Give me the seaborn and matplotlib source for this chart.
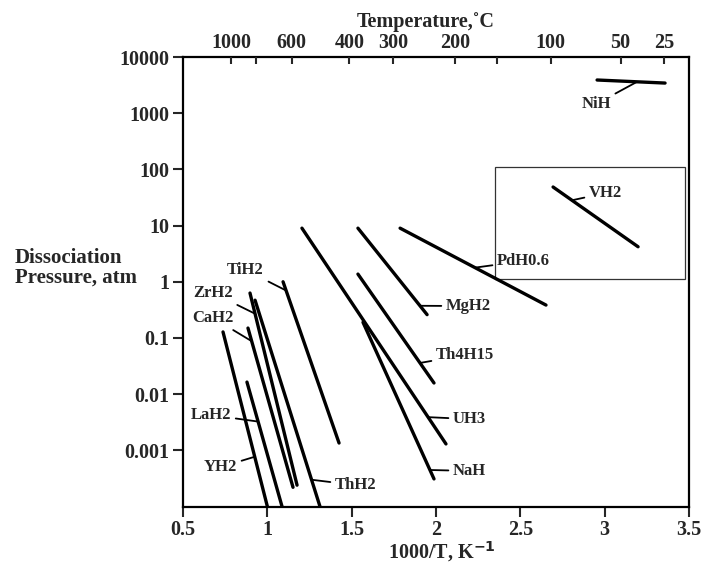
import matplotlib

matplotlib.use("Agg")
import matplotlib.pyplot as plt
import numpy as np
import pandas as pd
import seaborn as sns
from matplotlib.patches import Rectangle

# line endpoints: 1000/T (K^-1) and dissociation pressure (atm)
hydrides = ["YH2", "LaH2", "CaH2", "ZrH2", "ThH2", "TiH2", "UH3", "NaH",
            "MgH2", "Th4H15", "PdH0.6", "VH2", "NiH"]
x_start = [0.737, 0.879, 0.885, 0.897, 0.927, 1.093, 1.205, 1.567,
           1.537, 1.537, 1.787, 2.694, 2.955]
x_end = [1.0, 1.087, 1.152, 1.176, 1.312, 1.425, 2.059, 1.988,
         1.947, 1.988, 2.652, 3.198, 3.358]
p_start = [0.128, 0.0164, 0.15, 0.63, 0.47, 1.0, 9.0, 0.19,
           9.0, 1.37, 9.0, 48.6, 3900]
p_end = [1e-4, 1e-4, 2.2e-4, 2.4e-4, 1e-4, 1.35e-3, 1.3e-3, 3.1e-4,
         0.26, 0.0158, 0.385, 4.2, 3440]

x_ticks = [0.5, 1, 1.5, 2, 2.5, 3, 3.5]
x_tick_labels = ["0.5", "1", "1.5", "2", "2.5", "3", "3.5"]
y_ticks = [1e4, 1e3, 1e2, 1e1, 1, 0.1, 0.01, 0.001]
y_tick_labels = ["10000", "1000", "100", "10", "1", "0.1", "0.01", "0.001"]
temp_ticks_c = [1000, 800, 600, 400, 300, 200, 150, 100, 50, 25]
temp_labels = ["1000", "", "600", "400", "300", "200", "", "100", "50", "25"]

# label placement: x where the leader meets the line, text x, text pressure, alignment
label_spec = {
    "TiH2": (1.111, 0.980, 1.62, "right"),
    "ZrH2": (0.927, 0.796, 0.63, "right"),
    "CaH2": (0.907, 0.802, 0.226, "right"),
    "LaH2": (0.945, 0.785, 4.25e-3, "right"),
    "YH2": (0.925, 0.820, 5.0e-4, "right"),
    "ThH2": (1.262, 1.401, 2.4e-4, "left"),
    "MgH2": (1.905, 2.059, 0.37, "left"),
    "Th4H15": (1.905, 2.000, 0.0497, "left"),
    "UH3": (1.953, 2.101, 3.6e-3, "left"),
    "NaH": (1.964, 2.101, 4.3e-4, "left"),
    "PdH0.6": (2.231, 2.362, 2.34, "left"),
    "VH2": (2.806, 2.907, 38.0, "left"),
    "NiH": (3.192, 3.037, 1460.0, "right"),
}

df = pd.DataFrame({
    "hydride": hydrides + hydrides,
    "inv_T": x_start + x_end,
    "pressure": p_start + p_end,
})

sns.set_style("ticks")
plt.rcParams["font.family"] = ["Liberation Serif", "DejaVu Serif"]
plt.rcParams["font.weight"] = "bold"
plt.rcParams["mathtext.default"] = "bf"

fig = plt.figure(figsize=(7.04, 5.64), dpi=100)
ax = fig.add_axes([0.26, 0.1019, 0.7187, 0.7970])

sns.lineplot(data=df, x="inv_T", y="pressure", units="hydride", estimator=None,
             sort=False, color="black", linewidth=2.4, legend=False, ax=ax)
ax.set_yscale("log")
ax.set_xlim(0.5, 3.5)
ax.set_ylim(1e-4, 1e4)

ax.set_xticks(x_ticks)
ax.set_xticklabels(x_tick_labels)
ax.set_yticks(y_ticks)
ax.set_yticklabels(y_tick_labels)
ax.minorticks_off()
ax.tick_params(axis="both", direction="out", length=7, width=1.5, pad=3,
               labelsize=14.5, right=False, top=False)
for s in ax.spines.values():
    s.set_linewidth(1.6)
    s.set_color("black")
ax.set_xlabel("1000/T, K$^{-1}$", fontsize=14.5, fontweight="bold")
ax.xaxis.set_label_coords(0.512, -0.073)
ax.set_ylabel("")

# top axis in degrees Celsius
ax2 = ax.twiny()
ax2.set_xlim(ax.get_xlim())
ax2.set_xticks([1000.0 / (t + 273.15) for t in temp_ticks_c])
ax2.set_xticklabels(temp_labels)
ax2.minorticks_off()
ax2.tick_params(axis="x", direction="in", length=5, width=1.5, pad=3, labelsize=14.5)
for s in ax2.spines.values():
    s.set_visible(False)

fig.text(426 / 704, 1 - 22 / 564, "Temperature,\u02daC", ha="center", va="center",
         fontsize=14.5, fontweight="bold")
fig.text(15 / 704, 1 - 268 / 564, "Dissociation\nPressure, atm", ha="left",
         va="center", fontsize=15, fontweight="bold", linespacing=1.0)

# inset frame around VH2
ax.add_patch(Rectangle((2.35, 1.12), 3.476 - 2.35, 110 - 1.12, fill=False,
                       lw=0.9, ec="#333333", zorder=1))

for name, (ax_x, tx, tp, ha) in label_spec.items():
    i = hydrides.index(name)
    lp = np.interp(ax_x, [x_start[i], x_end[i]],
                   [np.log10(p_start[i]), np.log10(p_end[i])])
    ax.annotate(name, xy=(ax_x, 10 ** lp), xytext=(tx, tp), ha=ha, va="center",
                fontsize=12, fontweight="bold",
                arrowprops=dict(arrowstyle="-", lw=1.3, color="black",
                                shrinkA=1, shrinkB=0))

fig.savefig("out.png", dpi=100)
plt.close(fig)
